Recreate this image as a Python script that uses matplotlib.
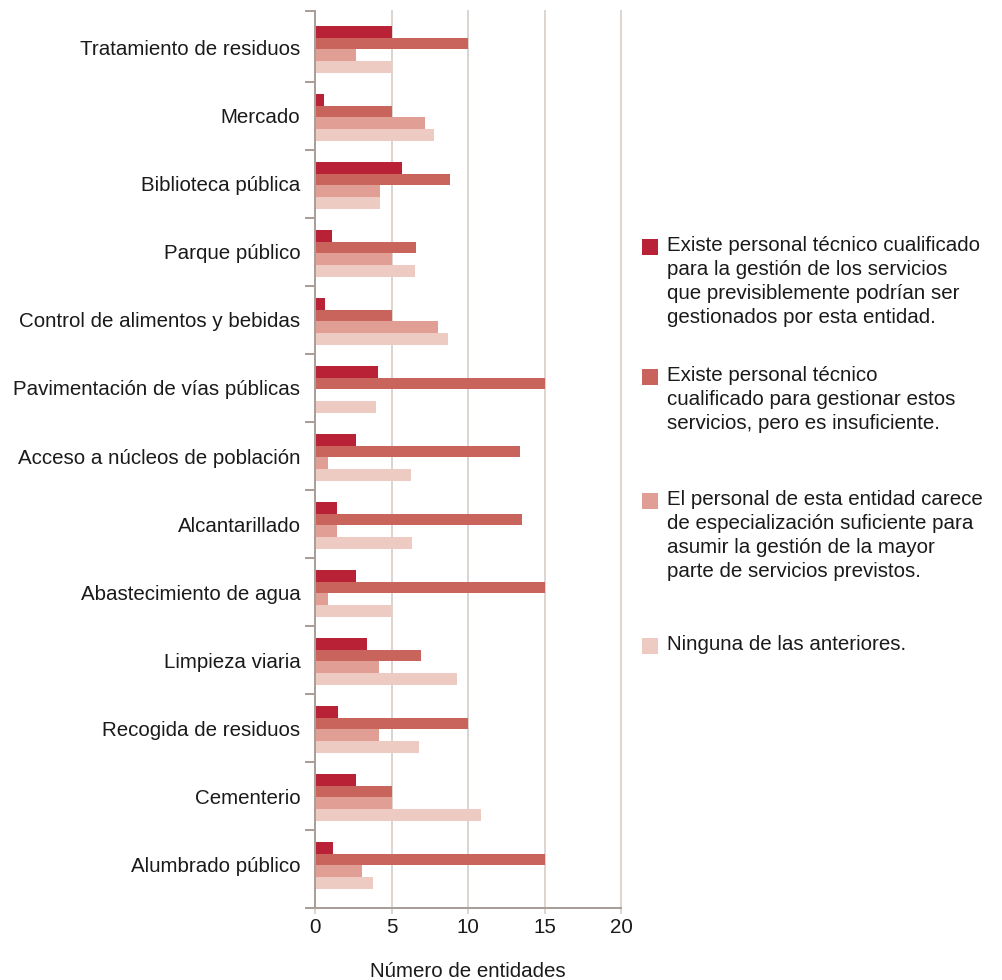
import matplotlib
matplotlib.use("Agg")
import matplotlib.pyplot as plt
import numpy as np
from matplotlib.patches import Rectangle

plt.rcParams['font.family'] = ['Liberation Sans', 'DejaVu Sans']

categories = [
    "Tratamiento de residuos",
    "Mercado",
    "Biblioteca pública",
    "Parque público",
    "Control de alimentos y bebidas",
    "Pavimentación de vías públicas",
    "Acceso a núcleos de población",
    "Alcantarillado",
    "Abastecimiento de agua",
    "Limpieza viaria",
    "Recogida de residuos",
    "Cementerio",
    "Alumbrado público",
]

personal_cualificado = [5.0, 0.55, 5.65, 1.1, 0.6, 4.1, 2.65, 1.4, 2.65, 3.35, 1.45, 2.65, 1.15]
personal_insuficiente = [10.0, 5.0, 8.8, 6.55, 5.0, 15.05, 13.4, 13.55, 15.0, 6.9, 10.0, 5.0, 15.0]
sin_especializacion = [2.65, 7.2, 4.2, 5.0, 8.05, 0.0, 0.85, 1.4, 0.8, 4.15, 4.15, 5.0, 3.05]
ninguna = [5.0, 7.75, 4.2, 6.5, 8.7, 3.95, 6.25, 6.35, 5.0, 9.25, 6.75, 10.85, 3.75]

series_labels = [
    "Existe personal técnico cualificado\npara la gestión de los servicios\nque previsiblemente podrían ser\ngestionados por esta entidad.",
    "Existe personal técnico\ncualificado para gestionar estos\nservicios, pero es insuficiente.",
    "El personal de esta entidad carece\nde especialización suficiente para\nasumir la gestión de la mayor\nparte de servicios previstos.",
    "Ninguna de las anteriores.",
]
colors = ["#b92137", "#c9645c", "#e09e95", "#edcac2"]

x_ticks = [0, 5, 10, 15, 20]

W, H = 1003, 980
PX = 72 / 100  # points per pixel
fig = plt.figure(figsize=(W / 100, H / 100), dpi=100)
ax_top, ax_bot = 11, 907.5
ax = fig.add_axes([315.5 / W, 1 - ax_bot / H, (621 - 315.5) / W, (ax_bot - ax_top) / H])

series = [personal_cualificado, personal_insuficiente, sin_especializacion, ninguna]
n = len(categories)
centers = np.arange(n)
bar_h = 0.173
offset0 = 0.02 - 1.5 * bar_h
for i, (vals, col) in enumerate(zip(series, colors)):
    ax.barh(centers + offset0 + i * bar_h, vals, height=bar_h, color=col,
            linewidth=0, zorder=3)

y_lo, y_hi = -0.5 - 3 / 68, n - 0.5 + 9.5 / 68
ax.set_ylim(y_hi, y_lo)
ax.set_xlim(0, 20)

grid_col = "#dcd5d0"
spine_col = "#a99f98"
for xv in x_ticks[1:]:
    ax.axvline(xv, color=grid_col, lw=2 * PX, zorder=1, clip_on=False)

# Boundary ticks between categories, labels centred on each group
ax.set_yticks([y_lo] + list(np.arange(0.5, n - 1, 1.0)) + [y_hi])
ax.set_yticklabels([])
ax.set_yticks(centers, minor=True)
ax.set_yticklabels(categories, minor=True, fontsize=14.8, color="#1a1a1a")
ax.tick_params(axis='y', which='major', length=10 * PX, width=2 * PX, color=spine_col, direction='out')
ax.tick_params(axis='y', which='minor', length=0, pad=15 * PX)

ax.set_xticks(x_ticks)
ax.set_xticklabels([str(v) for v in x_ticks], fontsize=14.8, color="#1a1a1a")
ax.tick_params(axis='x', length=6 * PX, width=2 * PX, color=grid_col, pad=3)

for s in ['top', 'right']:
    ax.spines[s].set_visible(False)
for s in ['left', 'bottom']:
    ax.spines[s].set_color(spine_col)
    ax.spines[s].set_linewidth(2 * PX)
    ax.spines[s].set_zorder(4)

ax.set_xlabel("Número de entidades", fontsize=14.8, color="#1a1a1a", labelpad=18)

# Legend built beside the axes
legend_tops = [247, 377, 501, 646]
for lab, col, yc in zip(series_labels, colors, legend_tops):
    fig.patches.append(Rectangle((642 / W, 1 - (yc + 8) / H), 16 / W, 16 / H,
                                 transform=fig.transFigure, color=col, lw=0))
    fig.text(667 / W, 1 - (yc - 11) / H, lab, ha='left', va='top',
             fontsize=14.8, linespacing=1.34, color="#1a1a1a")

fig.savefig("out.png", dpi=100, facecolor="white")
